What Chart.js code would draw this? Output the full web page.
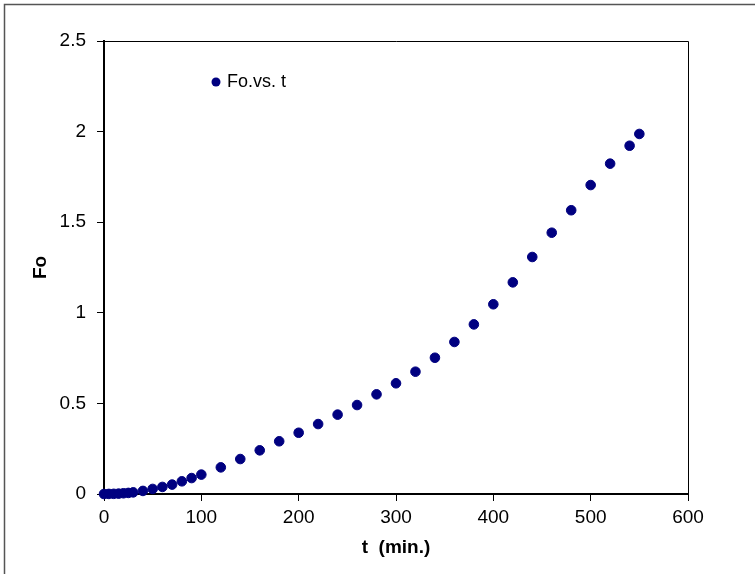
<!DOCTYPE html>
<html>
<head>
<meta charset="utf-8">
<script src="https://cdn.jsdelivr.net/npm/chart.js@4.4.1/dist/chart.umd.min.js"></script>
<style>
    html, body { margin: 0; padding: 0; background: #ffffff; }
    .chart_box { width: 755px; height: 574px; position: relative; }
</style>
</head>
<body>
<div class="chart_box">
    <canvas id="fo_chart" width="755" height="574"></canvas>
</div>
<script>
// data
const timeMin = [0, 5, 10, 15, 20, 25, 30, 40, 50, 60, 70, 80, 90, 100,
    120, 140, 160, 180, 200, 220, 240, 260, 280, 300, 320, 340, 360, 380,
    400, 420, 440, 460, 480, 500, 520, 540, 550];
const foValues = [0, 0.0005, 0.001, 0.002, 0.004, 0.006, 0.009, 0.017, 0.028, 0.039, 0.052, 0.070, 0.088, 0.107,
    0.147, 0.193, 0.241, 0.291, 0.338, 0.386, 0.438, 0.491, 0.550, 0.611, 0.675, 0.752, 0.839, 0.936,
    1.047, 1.168, 1.308, 1.442, 1.566, 1.705, 1.823, 1.922, 1.987];
const xTicks = [0, 100, 200, 300, 400, 500, 600];
const yTicks = [0, 0.5, 1, 1.5, 2, 2.5];
const seriesName = 'Fo.vs. t';

const fontFamily = '"Liberation Sans", Arial, sans-serif';
const navy = '#000080';

//frame round the chart, plot box and the legend
const framePlugin = {
    id: 'frame',
    beforeDraw(chart) {
        const ctx = chart.ctx;
        ctx.save();
        ctx.strokeStyle = '#555555';
        ctx.lineWidth = 1.5;
        ctx.beginPath();
        ctx.moveTo(4.5, chart.height);
        ctx.lineTo(4.5, 4.5);
        ctx.lineTo(chart.width, 4.5);
        ctx.stroke();
        ctx.restore();
    },
    beforeDatasetsDraw(chart) {
        const ctx = chart.ctx;
        const area = chart.chartArea;
        ctx.save();
        ctx.strokeStyle = '#000000';
        ctx.lineWidth = 1;
        ctx.beginPath();
        ctx.moveTo(area.left, area.top + 0.5);
        ctx.lineTo(area.right + 0.5, area.top + 0.5);
        ctx.lineTo(area.right + 0.5, area.bottom);
        ctx.stroke();

        // legend inside the plot
        ctx.fillStyle = navy;
        ctx.beginPath();
        ctx.arc(216, 82, 4.5, 0, Math.PI * 2);
        ctx.fill();
        ctx.fillStyle = '#000000';
        ctx.font = '18px ' + fontFamily;
        ctx.textBaseline = 'middle';
        ctx.textAlign = 'left';
        ctx.fillText(seriesName, 227, 82);
        ctx.restore();
    }
};

const foChart = new Chart(document.getElementById('fo_chart'), {
    type: 'scatter',
    data: {
        datasets: [{
            label: seriesName,
            data: timeMin.map((t, i) => ({ x: t, y: foValues[i] })),
            backgroundColor: navy,
            borderColor: navy,
            borderWidth: 1,
            pointRadius: 4.8,
            pointHoverRadius: 4.8,
            clip: false
        }]
    },
    options: {
        responsive: false,
        animation: false,
        layout: {
            padding: { left: 25, top: 41, right: 67, bottom: 11 }
        },
        plugins: {
            legend: { display: false },
            tooltip: { enabled: false }
        },
        scales: {
            x: {
                type: 'linear',
                min: 0,
                max: 600,
                afterBuildTicks: (scale) => {
                    scale.ticks = xTicks.map(v => ({ value: v }));
                },
                afterFit: (scale) => {
                    scale.height = 69;
                },
                ticks: {
                    color: '#000000',
                    padding: 5,
                    maxRotation: 0,
                    font: { family: fontFamily, size: 19 },
                    callback: (value) => String(value)
                },
                grid: {
                    drawOnChartArea: false,
                    color: '#000000',
                    tickLength: 7
                },
                border: { color: '#000000', width: 2 },
                title: {
                    display: true,
                    text: 't  (min.)',
                    color: '#000000',
                    font: { family: fontFamily, size: 19, weight: 'bold' },
                    padding: { top: 4, bottom: 4 }
                }
            },
            y: {
                type: 'linear',
                min: 0,
                max: 2.5,
                afterBuildTicks: (scale) => {
                    scale.ticks = yTicks.map(v => ({ value: v }));
                },
                afterFit: (scale) => {
                    scale.width = 79;
                },
                ticks: {
                    color: '#000000',
                    padding: 11,
                    font: { family: fontFamily, size: 19 },
                    callback: (value) => String(value)
                },
                grid: {
                    drawOnChartArea: false,
                    color: '#000000',
                    tickLength: 7
                },
                border: { color: '#000000', width: 2 },
                title: {
                    display: true,
                    text: 'Fo',
                    color: '#000000',
                    font: { family: fontFamily, size: 19, weight: 'bold' },
                    padding: { top: 4, bottom: 4 }
                }
            }
        }
    },
    plugins: [framePlugin]
});
</script>
</body>
</html>
